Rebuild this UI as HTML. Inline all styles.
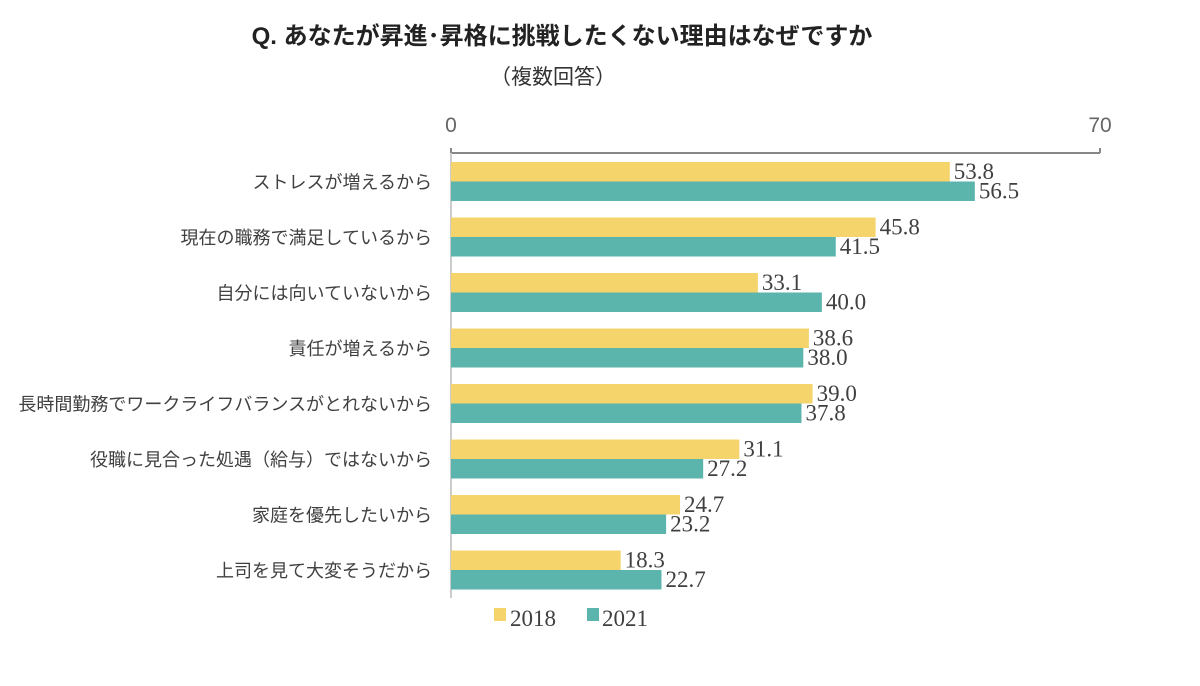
<!DOCTYPE html>
<html><head><meta charset="utf-8"><style>
body{margin:0;background:#fff;}
svg text{font-family:"Liberation Sans","Noto Sans CJK JP",sans-serif;fill:#404040;}
svg text.num{font-family:"Liberation Serif","DejaVu Serif",serif;}
</style></head><body>
<svg id="chart" width="1200" height="681" viewBox="0 0 1200 681" xmlns="http://www.w3.org/2000/svg">
<text x="562" y="44" text-anchor="middle" font-size="24" font-weight="bold" style="fill:#222">Q.  あなたが昇進･昇格に挑戦したくない理由はなぜですか</text>
<text x="553" y="84" text-anchor="middle" font-size="21" style="fill:#333">（複数回答）</text>
<g id="plot"></g>
<g>
<rect x="494" y="608" width="12" height="13" fill="#F5D46B"/>
<text class="num" x="510" y="626" font-size="23">2018</text>
<rect x="587" y="608" width="12" height="13" fill="#5BB5AC"/>
<text class="num" x="602" y="626" font-size="23">2021</text>
</g>
</svg>
<script>
const categories=["ストレスが増えるから","現在の職務で満足しているから","自分には向いていないから","責任が増えるから","長時間勤務でワークライフバランスがとれないから","役職に見合った処遇（給与）ではないから","家庭を優先したいから","上司を見て大変そうだから"];
const values2018=[53.8,45.8,33.1,38.6,39.0,31.1,24.7,18.3];
const values2021=[56.5,41.5,40.0,38.0,37.8,27.2,23.2,22.7];
const tickLabels=[0,70];
const NS="http://www.w3.org/2000/svg";
const g=document.getElementById('plot');
const x0=451,x1=1100,xMax=70,yTop=153,band=55.5,barH=19.5,firstBar=162;
const xs=v=>x0+(v/xMax)*(x1-x0);
function mk(t,a,txt){const e=document.createElementNS(NS,t);for(const k in a)e.setAttribute(k,a[k]);if(txt!==undefined)e.textContent=txt;g.appendChild(e);return e;}
let e;
e=mk('line',{x1:x0,y1:yTop,x2:x1,y2:yTop,stroke:'#888','stroke-width':2});


e=mk('line',{x1:x0,y1:yTop,x2:x0,y2:598,stroke:'#ccc','stroke-width':2});


tickLabels.forEach(t=>{
 e=mk('line',{x1:xs(t),y1:yTop-5,x2:xs(t),y2:yTop,stroke:'#888','stroke-width':2});
 
 
 e=mk('text',{x:xs(t),y:132,'text-anchor':'middle','font-size':21,style:'fill:#666'},String(t));
 
 
});
categories.forEach((c,i)=>{
 const y=firstBar+i*band;
 e=mk('text',{x:432,y:y+barH+7,'text-anchor':'end','font-size':18},c);
 
 
 e=mk('rect',{x:x0,y:y,width:xs(values2018[i])-x0,height:barH,fill:'#F5D46B'});
 
 
 e=mk('rect',{x:x0,y:y+barH,width:xs(values2021[i])-x0,height:barH,fill:'#5BB5AC'});
 
 
 e=mk('text',{class:'num',x:xs(values2018[i])+4,y:y+17,'font-size':23},values2018[i].toFixed(1));
 
 
 e=mk('text',{class:'num',x:xs(values2021[i])+4,y:y+barH+17,'font-size':23},values2021[i].toFixed(1));
 
 
});
</script>
</body></html>
